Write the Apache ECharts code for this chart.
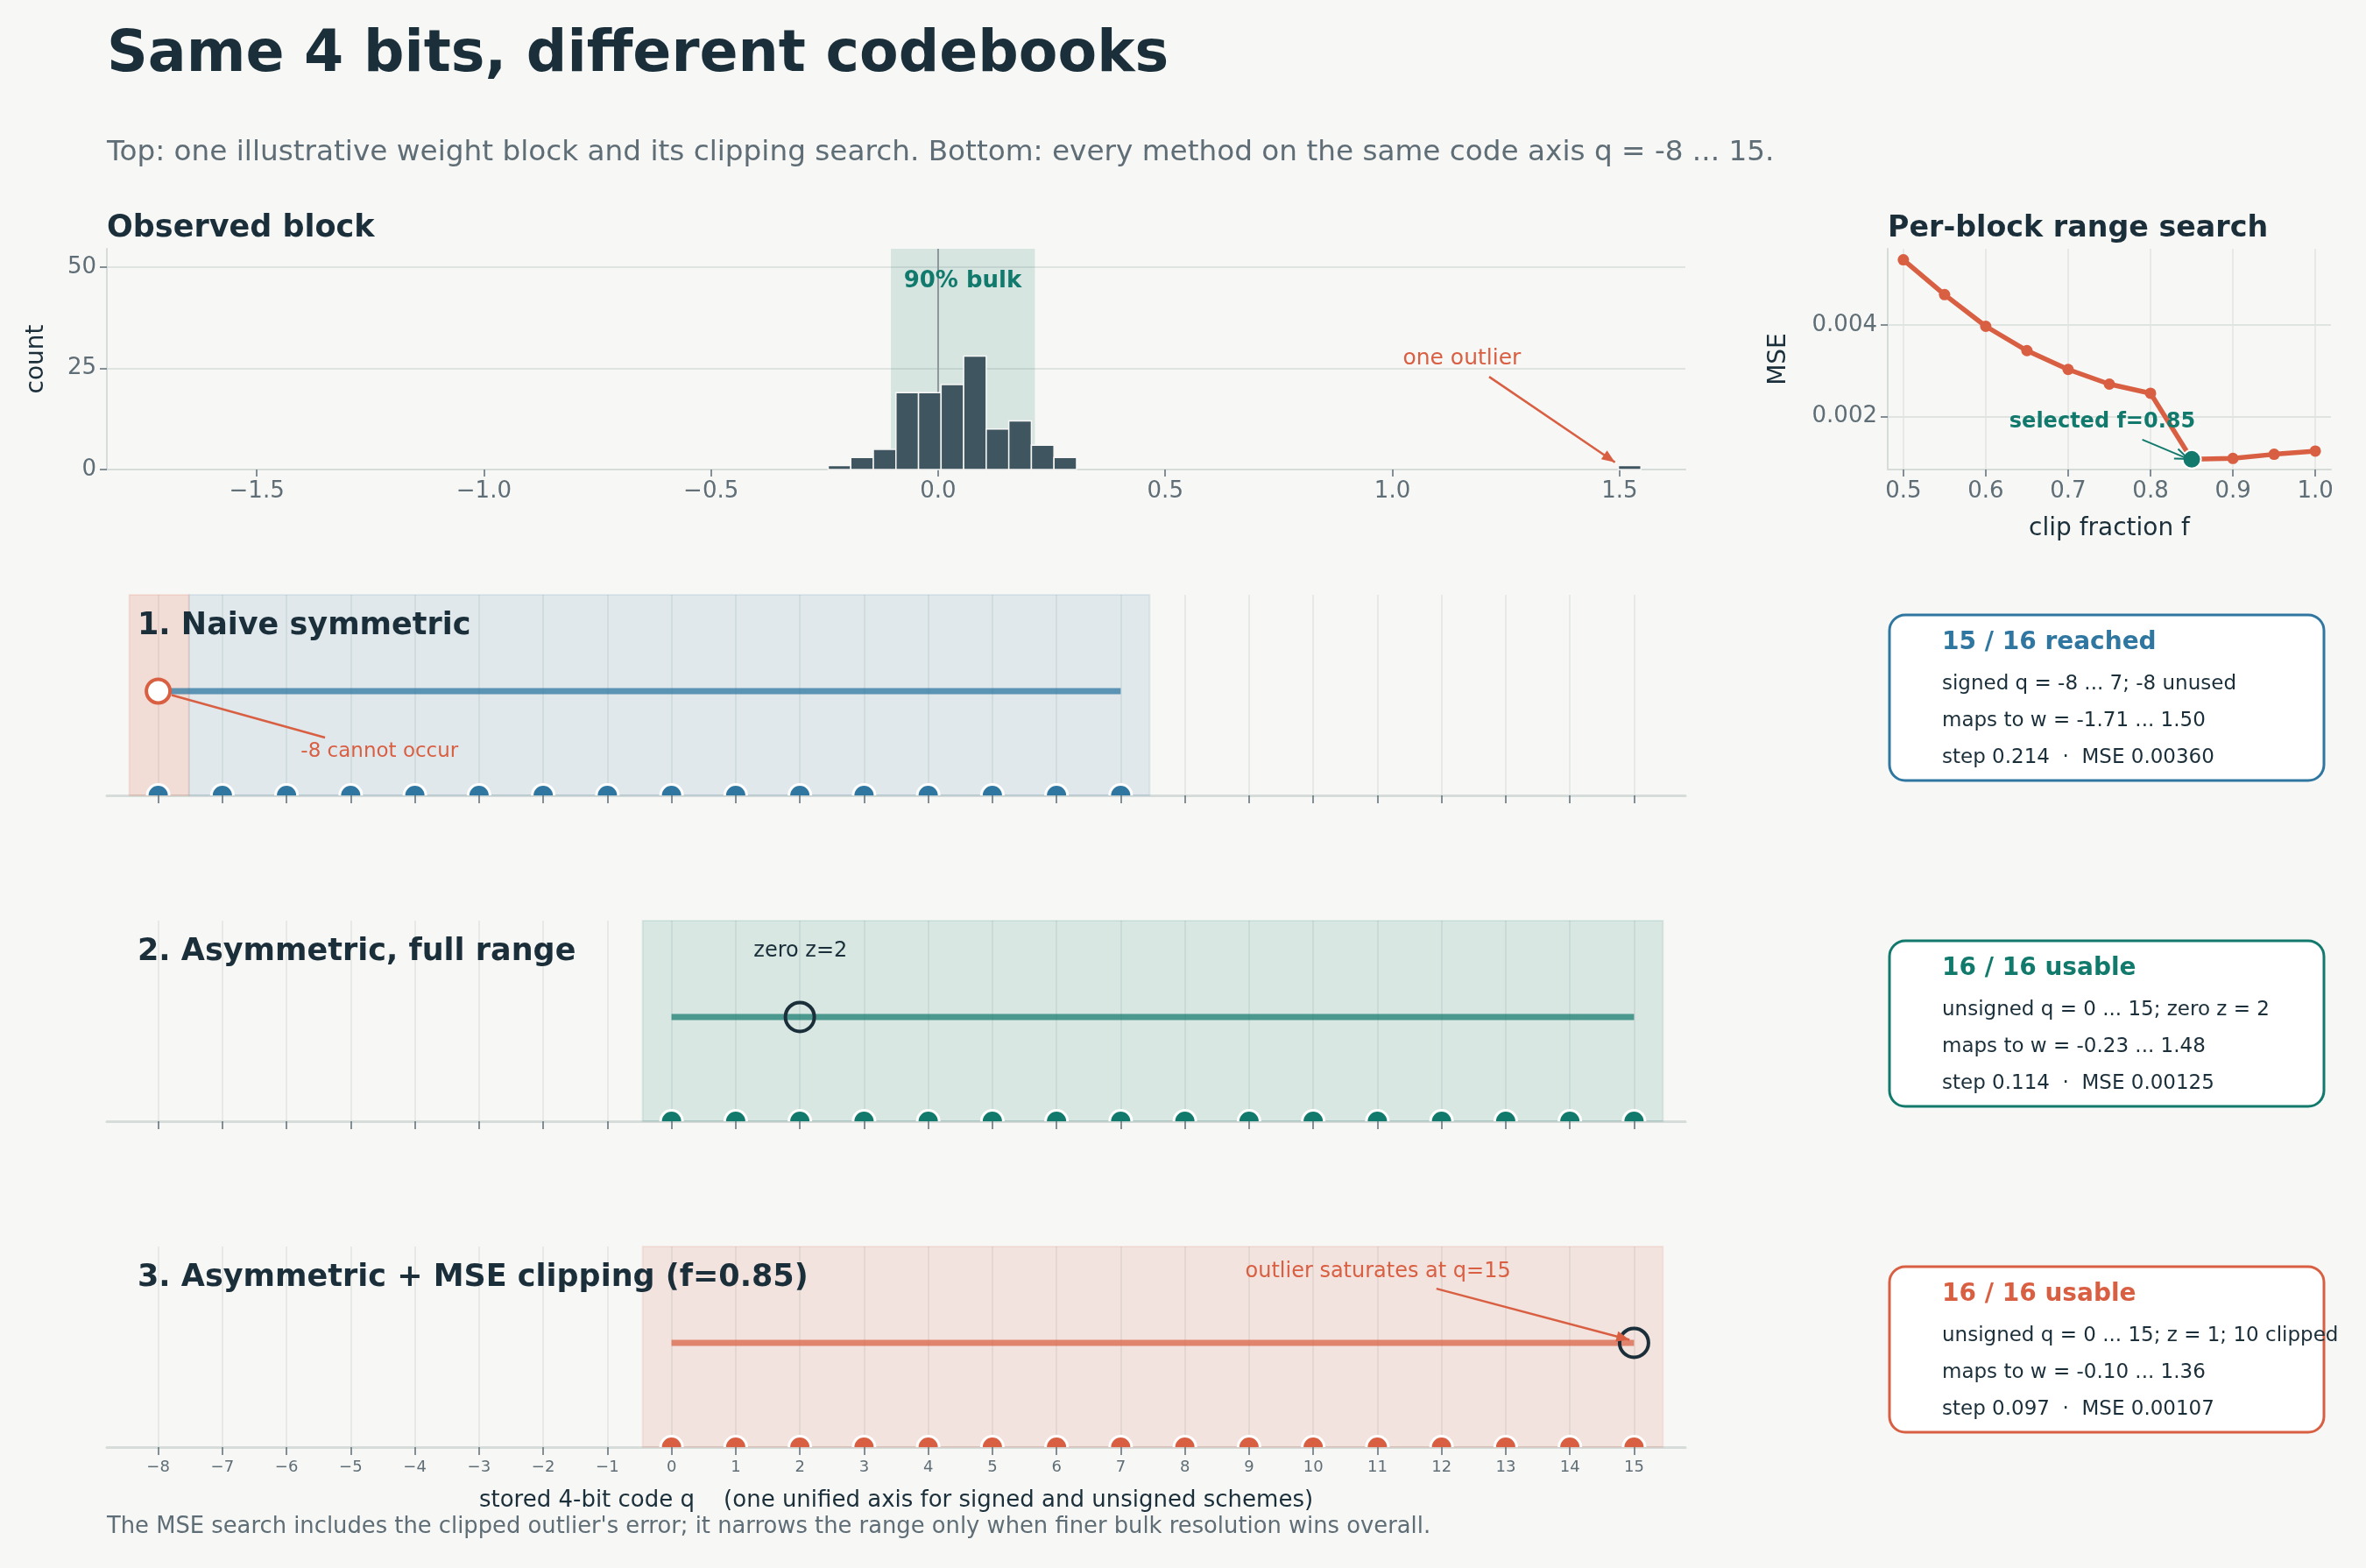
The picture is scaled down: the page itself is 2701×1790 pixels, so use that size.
<!DOCTYPE html>
<html>
<head>
<meta charset="utf-8">
<title>Same 4 bits, different codebooks</title>
<script src="https://cdn.jsdelivr.net/npm/echarts@6/dist/echarts.min.js"></script>
<style>
html,body{margin:0;padding:0;background:#f7f7f5;}
#main{width:2701px;height:1790px;}
</style>
</head>
<body>
<div id="main"></div>
<script>
// ---------- data ----------
// histogram of the observed block (bins of equal width, first bin starts at histBinStart)
var histBinStart = -0.242;
var histBinWidth = 0.0497;
var histCounts = [1, 3, 5, 19, 19, 21, 28, 10, 12, 6, 3,
                  0, 0, 0, 0, 0, 0, 0, 0, 0, 0, 0, 0, 0, 0, 0, 0, 0, 0, 0, 0, 0, 0, 0, 0,
                  1];
var bulkRange = [-0.104, 0.213];
var histXTicks = [-1.5, -1.0, -0.5, 0, 0.5, 1.0, 1.5];
var histYTicks = [0, 25, 50];

// per-block clipping search
var clipFractions = [0.5, 0.55, 0.6, 0.65, 0.7, 0.75, 0.8, 0.85, 0.9, 0.95, 1.0];
var clipMse = [0.00542, 0.00466, 0.00397, 0.00344, 0.00303, 0.00271, 0.00251, 0.00107, 0.00109, 0.00118, 0.00125];
var selectedClip = [0.85, 0.00107];
var mseXTicks = [0.5, 0.6, 0.7, 0.8, 0.9, 1.0];
var mseYTicks = [0.002, 0.004];

// code axis
var codeTicks = [-8, -7, -6, -5, -4, -3, -2, -1, 0, 1, 2, 3, 4, 5, 6, 7, 8, 9, 10, 11, 12, 13, 14, 15];
var naiveCodes = [-8, -7, -6, -5, -4, -3, -2, -1, 0, 1, 2, 3, 4, 5, 6, 7];
var asymCodes = [0, 1, 2, 3, 4, 5, 6, 7, 8, 9, 10, 11, 12, 13, 14, 15];

var panelTitles = ['1. Naive symmetric', '2. Asymmetric, full range', '3. Asymmetric + MSE clipping (f=0.85)'];
var naiveRange = [-8, 7];
var asymRange = [0, 15];
var naiveUnusedSpan = [-8.45, -7.52];
var naiveUsedSpan = [-7.52, 7.45];
var asymSpan = [-0.45, 15.45];
var naiveUnused = -8;
var zeroPointCode = 2;
var saturatedCode = 15;

var boxTitles = ['15 / 16 reached', '16 / 16 usable', '16 / 16 usable'];
var boxLines = [
  ['signed q = -8 ... 7; -8 unused', 'maps to w = -1.71 ... 1.50', 'step 0.214  \u00b7  MSE 0.00360'],
  ['unsigned q = 0 ... 15; zero z = 2', 'maps to w = -0.23 ... 1.48', 'step 0.114  \u00b7  MSE 0.00125'],
  ['unsigned q = 0 ... 15; z = 1; 10 clipped', 'maps to w = -0.10 ... 1.36', 'step 0.097  \u00b7  MSE 0.00107']
];

// ---------- style ----------
var FONT = '"DejaVu Sans", "Noto Sans", sans-serif';
var INK = '#1b2f3a', MUTED = '#5f6e76', AXIS = '#d6dcd9', GRIDC = '#e0e4e1';
var BLUE = '#2f77a1', TEAL = '#127a6d', RED = '#d95f43', BAR = '#3f5660', BG = '#f7f7f5';

function minusFmt(d){
  return function(v){ return (v < 0 ? '\u2212' : '') + Math.abs(v).toFixed(d); };
}

// ---------- render helpers ----------
function bandItem(fill, stroke){
  return function(params, api){
    var cs = params.coordSys;
    var a = api.coord([api.value(0), 0]), b = api.coord([api.value(1), 0]);
    return {type:'rect', shape:{x:a[0], y:cs.y, width:b[0]-a[0], height:cs.height},
      style:{fill:fill, stroke:stroke, lineWidth:2}};
  };
}
function barItem(params, api){
  var p0 = api.coord([api.value(0), 0]), p1 = api.coord([api.value(1), api.value(2)]);
  return {type:'rect', shape:{x:p0[0], y:p1[1], width:p1[0]-p0[0], height:p0[1]-p1[1]},
    style:{fill:BAR, stroke:BG, lineWidth:1.5}};
}
function vlineItem(color, w){
  return function(params, api){
    var cs = params.coordSys, p = api.coord([api.value(0), 0]);
    return {type:'line', shape:{x1:p[0], y1:cs.y, x2:p[0], y2:cs.y+cs.height}, style:{stroke:color, lineWidth:w}};
  };
}
function dotItem(color){
  return function(params, api){
    var p = api.coord([api.value(0), api.value(1)]);
    return {type:'circle', shape:{cx:p[0], cy:p[1], r:12.5}, style:{fill:color, stroke:'#ffffff', lineWidth:3}};
  };
}
function textItem(text, color, size, weight){
  return function(params, api){
    var p = api.coord([api.value(0), api.value(1)]);
    return {type:'text', x:p[0], y:p[1], style:{text:text, fill:color, fontSize:size, fontWeight:weight||'normal',
      fontFamily:FONT, align:'center', verticalAlign:'middle'}};
  };
}
function arrowItem(color, w, head){
  return function(params, api){
    var a = api.coord([api.value(0), api.value(1)]), b = api.coord([api.value(2), api.value(3)]);
    var kids = [{type:'line', shape:{x1:a[0], y1:a[1], x2:b[0], y2:b[1]}, style:{stroke:color, lineWidth:w}}];
    var ang = Math.atan2(b[1]-a[1], b[0]-a[0]), L = 15, H = 6;
    var bx = b[0]-L*Math.cos(ang), by = b[1]-L*Math.sin(ang);
    var l = [bx+H*Math.sin(ang), by-H*Math.cos(ang)], r = [bx-H*Math.sin(ang), by+H*Math.cos(ang)];
    if(head === 'fill'){
      kids.push({type:'polygon', shape:{points:[[b[0], b[1]], l, r]}, style:{fill:color}});
    }else if(head === 'open'){
      kids.push({type:'polyline', shape:{points:[l, [b[0], b[1]], r]}, style:{stroke:color, lineWidth:w, fill:null}});
    }
    return {type:'group', children:kids};
  };
}
function custom(gi, data, fn, z, clip){
  return {type:'custom', xAxisIndex:gi, yAxisIndex:gi, data:data, renderItem:fn, z:z||2, clip:!!clip, silent:true};
}

// ---------- axes ----------
function codeAxisX(gi, withLabels){
  return {type:'value', gridIndex:gi, min:-8.8, max:15.8, minInterval:1, maxInterval:1,
    axisLine:{show:true, onZero:false, lineStyle:{color:AXIS, width:3}},
    axisTick:{show:true, customValues:codeTicks, length:9, lineStyle:{color:MUTED, width:1.5}},
    axisLabel:{show:withLabels, customValues:codeTicks, fontSize:18, color:MUTED, margin:14, formatter:minusFmt(0)},
    splitLine:{show:true, lineStyle:{color:GRIDC, width:1.5}},
    name: withLabels ? 'stored 4-bit code q    (one unified axis for signed and unsigned schemes)' : '',
    nameLocation:'middle', nameGap:48, nameTextStyle:{fontSize:26, color:INK, fontFamily:FONT}
  };
}
function codeAxisY(gi){
  return {type:'value', gridIndex:gi, min:0, max:1, show:false};
}

var xAxes = [
  {type:'value', gridIndex:0, min:-1.83, max:1.645, minInterval:0.5, maxInterval:0.5,
    axisLine:{show:true, onZero:false, lineStyle:{color:AXIS, width:2}},
    axisTick:{show:true, customValues:histXTicks, length:8, lineStyle:{color:MUTED, width:1.5}},
    axisLabel:{customValues:histXTicks, fontSize:26, color:MUTED, margin:12, formatter:minusFmt(1)},
    splitLine:{show:false}},
  {type:'value', gridIndex:1, min:0.481, max:1.019, minInterval:0.1, maxInterval:0.1,
    axisLine:{show:true, onZero:false, lineStyle:{color:AXIS, width:2}},
    axisTick:{show:true, customValues:mseXTicks, length:8, lineStyle:{color:MUTED, width:1.5}},
    axisLabel:{customValues:mseXTicks, fontSize:26, color:MUTED, margin:12, formatter:function(v){ return v.toFixed(1); }},
    splitLine:{show:true, lineStyle:{color:GRIDC, width:1.5}},
    name:'clip fraction f', nameLocation:'middle', nameGap:54, nameTextStyle:{fontSize:28, color:INK, fontFamily:FONT}},
  codeAxisX(2, false), codeAxisX(3, false), codeAxisX(4, true)
];
var yAxes = [
  {type:'value', gridIndex:0, min:0, max:54.5, minInterval:25, maxInterval:25,
    axisLine:{show:true, onZero:false, lineStyle:{color:AXIS, width:2}},
    axisTick:{show:true, customValues:histYTicks, length:8, lineStyle:{color:MUTED, width:1.5}},
    axisLabel:{customValues:histYTicks, fontSize:26, color:MUTED, margin:12},
    splitLine:{show:true, lineStyle:{color:GRIDC, width:2}},
    name:'count', nameLocation:'middle', nameRotate:90, nameGap:66, nameTextStyle:{fontSize:28, color:INK, fontFamily:FONT}},
  {type:'value', gridIndex:1, min:0.000848, max:0.00566, minInterval:0.002, maxInterval:0.002,
    axisLine:{show:true, onZero:false, lineStyle:{color:AXIS, width:2}},
    axisTick:{show:true, customValues:mseYTicks, length:8, lineStyle:{color:MUTED, width:1.5}},
    axisLabel:{customValues:mseYTicks, fontSize:26, color:MUTED, margin:12, formatter:function(v){ return v.toFixed(3); }},
    splitLine:{show:true, lineStyle:{color:GRIDC, width:2}},
    name:'MSE', nameLocation:'middle', nameRotate:90, nameGap:110, nameTextStyle:{fontSize:28, color:INK, fontFamily:FONT}},
  codeAxisY(2), codeAxisY(3), codeAxisY(4)
];

// ---------- series ----------
var histData = [];
for (var i = 0; i < histCounts.length; i++) {
  if (histCounts[i] > 0) histData.push([histBinStart + i*histBinWidth, histBinStart + (i+1)*histBinWidth, histCounts[i]]);
}
var mseData = clipFractions.map(function(f, i){ return [f, clipMse[i]]; });
function dotsAt(codes){ return codes.map(function(q){ return [q, 0]; }); }
var LINE_Y = 0.52;

var series = [
  // observed block
  custom(0, [bulkRange], bandItem('rgba(18,122,109,0.14)', 'rgba(18,122,109,0)'), 1),
  custom(0, [[0]], vlineItem('#8c9799', 2), 2),
  custom(0, histData, barItem, 3),
  custom(0, [[0.054, 46.5]], textItem('90% bulk', TEAL, 26, 'bold'), 5),
  custom(0, [[1.153, 27.3]], textItem('one outlier', RED, 25), 5),
  custom(0, [[1.213, 22.9, 1.490, 1.8]], arrowItem(RED, 2.5, 'fill'), 5),
  // clipping search
  {type:'line', xAxisIndex:1, yAxisIndex:1, data:mseData, symbol:'circle', symbolSize:13,
    lineStyle:{color:RED, width:5.5}, itemStyle:{color:RED}, z:3, silent:true},
  {type:'scatter', xAxisIndex:1, yAxisIndex:1, data:[selectedClip], symbolSize:21,
    itemStyle:{color:TEAL, borderColor:'#ffffff', borderWidth:2, opacity:1}, z:4, silent:true},
  custom(1, [[0.7415, 0.00188]], textItem('selected f=0.85', TEAL, 24, 'bold'), 5),
  custom(1, [[0.790, 0.00150, 0.8457, 0.00108]], arrowItem(TEAL, 2, 'open'), 5),

  // panel 1: naive symmetric
  custom(2, [naiveUnusedSpan], bandItem('rgba(217,95,67,0.17)', 'rgba(217,95,67,0.12)'), 1),
  custom(2, [naiveUsedSpan], bandItem('rgba(47,119,161,0.11)', 'rgba(47,119,161,0.1)'), 1),
  {type:'line', xAxisIndex:2, yAxisIndex:2, data:[[naiveRange[0], LINE_Y], [naiveRange[1], LINE_Y]], symbol:'none',
    lineStyle:{color:'rgba(47,119,161,0.75)', width:7}, z:3, silent:true},
  custom(2, dotsAt(naiveCodes), dotItem(BLUE), 4, true),
  {type:'scatter', xAxisIndex:2, yAxisIndex:2, data:[[naiveUnused, LINE_Y]], symbolSize:27,
    itemStyle:{color:'#ffffff', borderColor:RED, borderWidth:4, opacity:1}, z:5, silent:true},
  custom(2, [[-5.40, 0.288, -7.79, 0.50]], arrowItem(RED, 2.5, null), 5),
  custom(2, [[-4.55, 0.218]], textItem('-8 cannot occur', RED, 23), 5),

  // panel 2: asymmetric full range
  custom(3, [asymSpan], bandItem('rgba(18,122,109,0.13)', 'rgba(18,122,109,0.1)'), 1),
  {type:'line', xAxisIndex:3, yAxisIndex:3, data:[[asymRange[0], LINE_Y], [asymRange[1], LINE_Y]], symbol:'none',
    lineStyle:{color:'rgba(18,122,109,0.72)', width:7}, z:3, silent:true},
  custom(3, dotsAt(asymCodes), dotItem(TEAL), 4, true),
  {type:'scatter', xAxisIndex:3, yAxisIndex:3, data:[[zeroPointCode, LINE_Y]], symbolSize:33,
    itemStyle:{color:'rgba(0,0,0,0)', borderColor:INK, borderWidth:4, opacity:1}, z:5, silent:true},
  custom(3, [[2.01, 0.85]], textItem('zero z=2', INK, 24), 5),

  // panel 3: asymmetric + mse clipping
  custom(4, [asymSpan], bandItem('rgba(217,95,67,0.13)', 'rgba(217,95,67,0.1)'), 1),
  {type:'line', xAxisIndex:4, yAxisIndex:4, data:[[asymRange[0], LINE_Y], [asymRange[1], LINE_Y]], symbol:'none',
    lineStyle:{color:'rgba(217,95,67,0.72)', width:7}, z:3, silent:true},
  custom(4, dotsAt(asymCodes), dotItem(RED), 4, true),
  {type:'scatter', xAxisIndex:4, yAxisIndex:4, data:[[saturatedCode, LINE_Y]], symbolSize:33,
    itemStyle:{color:'rgba(0,0,0,0)', borderColor:INK, borderWidth:4, opacity:1}, z:5, silent:true},
  custom(4, [[11.92, 0.79, 14.93, 0.535]], arrowItem(RED, 2.5, 'fill'), 6),
  custom(4, [[11.01, 0.873]], textItem('outlier saturates at q=15', RED, 24), 5)
];

// ---------- static texts and info boxes ----------
function gtext(x, y, text, size, color, weight){
  return {type:'text', x:x, y:y, z:10, silent:true,
    style:{text:text, fontSize:size, fontWeight:weight||'normal', fontFamily:FONT, fill:color, align:'left', verticalAlign:'middle'}};
}
var graphics = [
  gtext(122, 64, 'Same 4 bits, different codebooks', 65, INK, 'bold'),
  gtext(122, 175, 'Top: one illustrative weight block and its clipping search. Bottom: every method on the same code axis q = -8 ... 15.', 32.7, MUTED),
  gtext(122, 261, 'Observed block', 35, INK, 'bold'),
  gtext(2155, 261, 'Per-block range search', 33.3, INK, 'bold'),
  gtext(122, 1743, "The MSE search includes the clipped outlier's error; it narrows the range only when finer bulk resolution wins overall.", 25.8, MUTED)
];
var panelTops = [679, 1051, 1423];
var boxColors = [BLUE, TEAL, RED];
for (var k = 0; k < 3; k++) {
  graphics.push(gtext(157, panelTops[k] + 36, panelTitles[k], 35, INK, 'bold'));
  var bt = panelTops[k] + 23;
  graphics.push({type:'rect', z:9, silent:true, shape:{x:2157, y:bt, width:496, height:189, r:18},
    style:{fill:'#ffffff', stroke:boxColors[k], lineWidth:3}});
  graphics.push(gtext(2217, bt + 32, boxTitles[k], 28, boxColors[k], 'bold'));
  for (var j = 0; j < 3; j++) {
    graphics.push(gtext(2217, bt + 79 + j*42, boxLines[k][j], 23, INK));
  }
}

var myChart = echarts.init(document.getElementById('main'), null, {renderer:'canvas'});
myChart.setOption({
  backgroundColor: BG,
  animation: false,
  textStyle: {fontFamily: FONT},
  grid: [
    {left:122, top:284, width:1802, height:252},
    {left:2155, top:284, width:506, height:252},
    {left:122, top:679, width:1802, height:229},
    {left:122, top:1051, width:1802, height:229},
    {left:122, top:1423, width:1802, height:229}
  ],
  xAxis: xAxes,
  yAxis: yAxes,
  series: series,
  graphic: graphics
});
</script>
</body>
</html>
